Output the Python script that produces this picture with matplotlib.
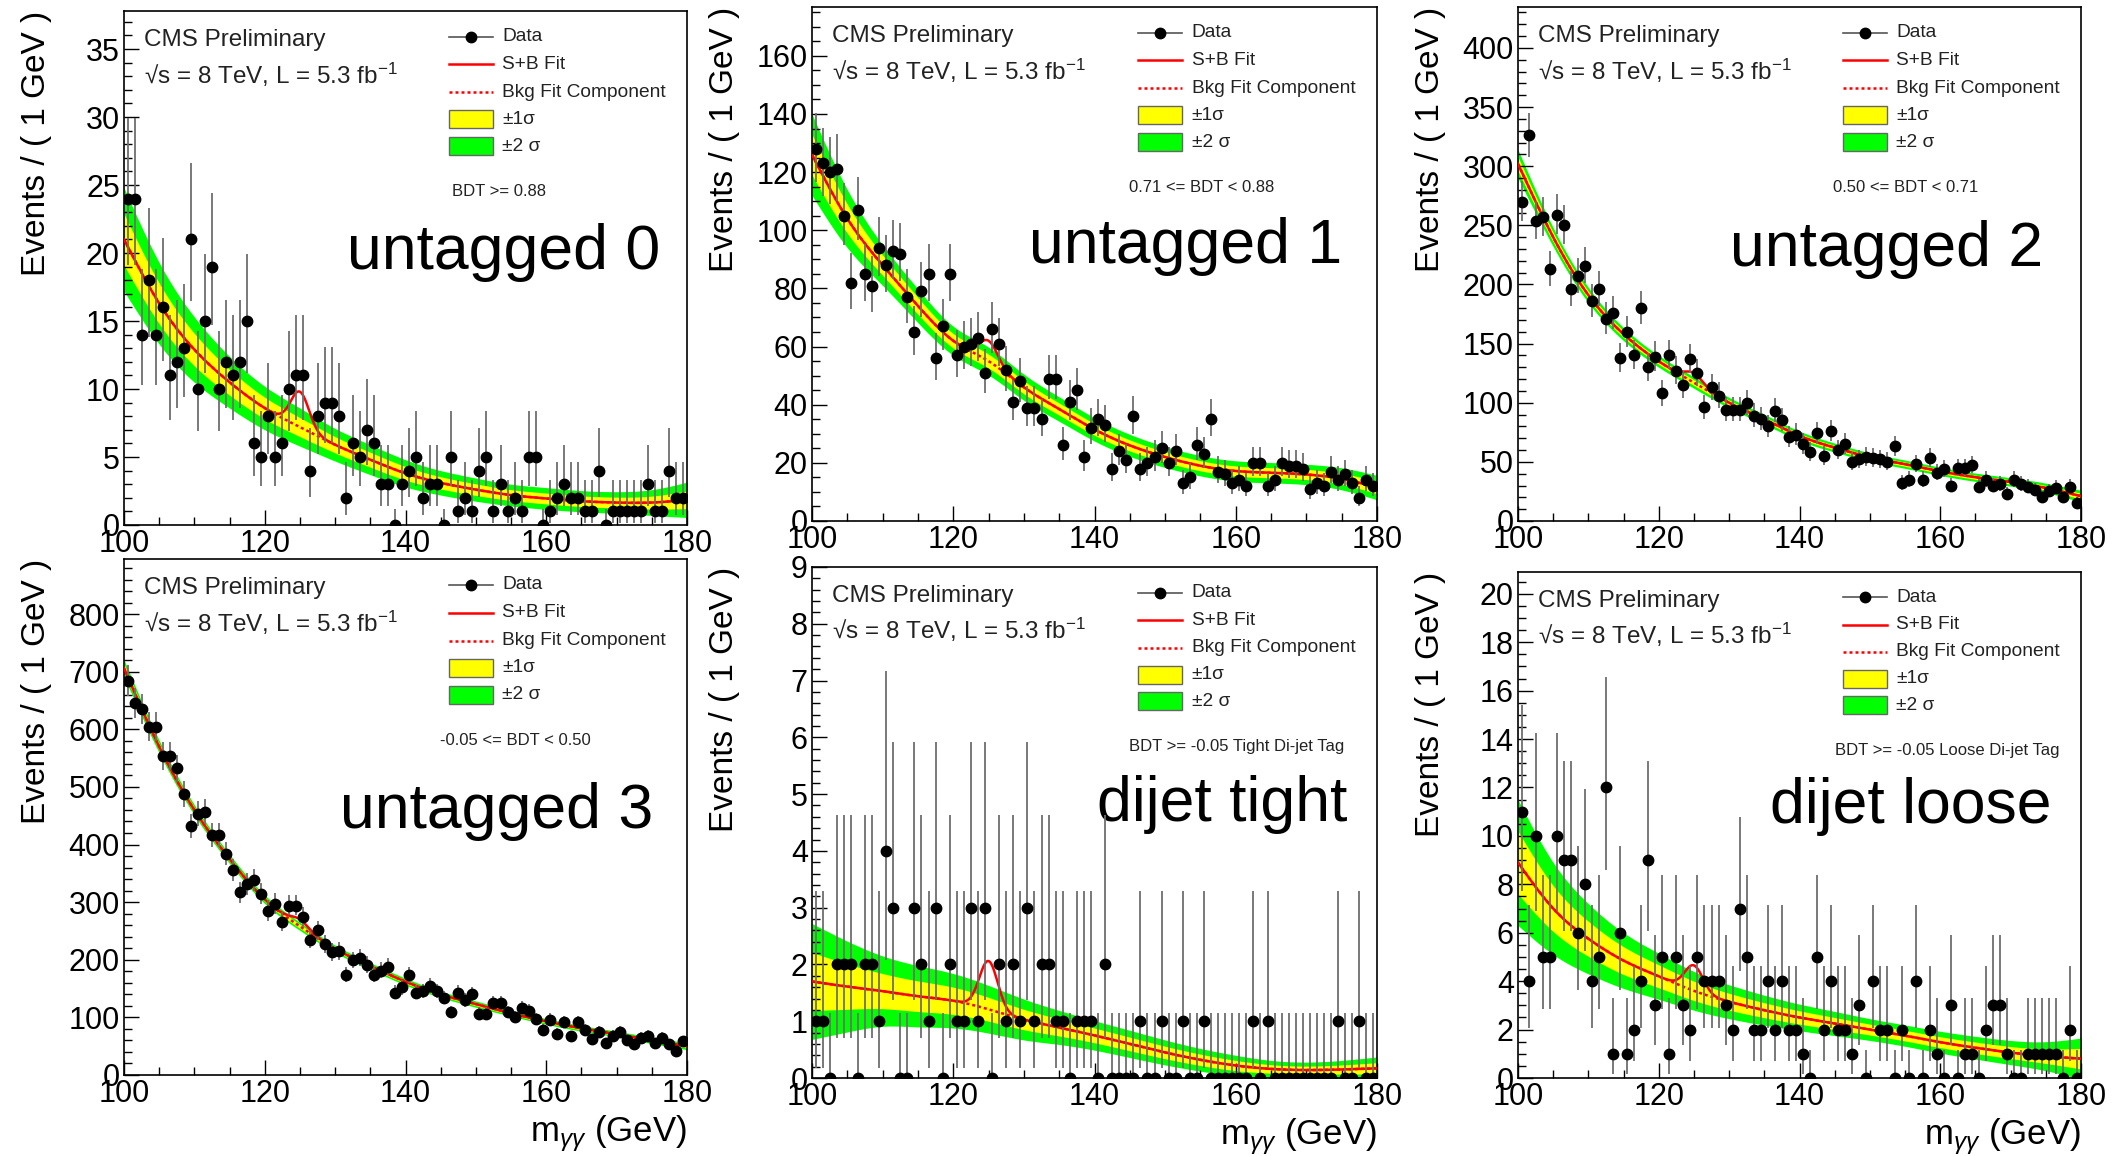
import math
import numpy as np
import matplotlib
matplotlib.use("Agg")
import matplotlib.pyplot as plt
from matplotlib.ticker import MultipleLocator
from matplotlib.patches import Rectangle
from matplotlib.lines import Line2D

plt.rcParams["font.family"] = ["Liberation Sans", "DejaVu Sans"]
plt.rcParams["mathtext.fontset"] = "custom"
plt.rcParams["mathtext.rm"] = "Liberation Sans"
plt.rcParams["mathtext.it"] = "Liberation Sans:italic"
plt.rcParams["mathtext.bf"] = "Liberation Sans:bold"

# ---------------------------------------------------------------- data
# diphoton mass bin centres (1 GeV bins) and fit knot positions
mass = np.arange(100.5, 180.0, 1.0)
knots = np.arange(100, 181, 5)

untagged0 = [24, 24, 14, 18, 14, 16, 11, 12, 13, 21,
             10, 15, 19, 10, 12, 11, 12, 15, 6, 5,
             8, 5, 6, 10, 11, 11, 4, 8, 9, 9,
             8, 2, 6, 5, 7, 6, 3, 3, 0, 3,
             4, 5, 2, 3, 3, 0, 5, 1, 2, 1,
             4, 5, 1, 3, 1, 2, 1, 5, 5, 0,
             1, 2, 3, 2, 2, 1, 1, 4, 0, 1,
             1, 1, 1, 1, 3, 1, 1, 4, 2, 2]

untagged1 = [128, 123, 120, 121, 105, 82, 107, 85, 81, 94,
             88, 93, 92, 77, 65, 79, 85, 56, 67, 85,
             57, 60, 61, 63, 51, 66, 61, 52, 41, 48,
             39, 39, 35, 49, 49, 26, 41, 45, 22, 32,
             35, 33, 18, 24, 21, 36, 18, 20, 22, 25,
             20, 24, 13, 15, 26, 23, 35, 17, 16, 13,
             14, 12, 20, 20, 12, 14, 20, 19, 19, 18,
             11, 13, 12, 17, 14, 16, 13, 8, 14, 12]

untagged2 = [270, 326, 254, 257, 213, 259, 250, 196, 207, 216,
             186, 196, 171, 176, 138, 160, 140, 180, 130, 139,
             108, 140, 127, 115, 137, 125, 96, 113, 106, 94,
             94, 94, 100, 89, 86, 80, 93, 85, 71, 73,
             65, 58, 74, 55, 76, 60, 65, 50, 52, 54,
             53, 52, 50, 63, 32, 35, 48, 35, 53, 41,
             44, 30, 45, 45, 47, 29, 35, 30, 31, 23,
             35, 31, 29, 26, 20, 25, 28, 20, 29, 15]

untagged3 = [684, 645, 635, 604, 604, 553, 553, 532, 488, 432,
             453, 457, 416, 416, 384, 355, 317, 331, 338, 315,
             285, 297, 266, 294, 294, 274, 235, 251, 227, 213,
             215, 174, 199, 203, 191, 174, 181, 188, 143, 152,
             173, 143, 145, 155, 145, 134, 109, 143, 130, 140,
             106, 106, 125, 125, 109, 100, 117, 111, 97, 78,
             96, 72, 92, 67, 92, 78, 63, 75, 55, 68,
             75, 60, 53, 65, 68, 55, 65, 53, 42, 59]

dijet_tight = [1, 1, 0, 2, 2, 2, 0, 2, 2, 1,
               4, 3, 0, 0, 3, 2, 1, 3, 0, 2,
               1, 1, 3, 1, 3, 0, 2, 1, 2, 1,
               3, 1, 2, 2, 1, 1, 0, 1, 1, 1,
               0, 2, 0, 0, 0, 0, 1, 0, 0, 1,
               0, 0, 1, 0, 0, 1, 0, 0, 0, 0,
               0, 0, 1, 0, 1, 0, 0, 0, 0, 0,
               0, 0, 0, 0, 1, 0, 0, 1, 0, 0]

dijet_loose = [11, 4, 10, 5, 5, 10, 9, 9, 6, 8,
               4, 5, 12, 1, 6, 1, 2, 4, 9, 3,
               5, 1, 5, 3, 2, 5, 4, 4, 4, 3,
               2, 7, 5, 2, 2, 4, 2, 4, 2, 2,
               1, 0, 5, 2, 4, 2, 2, 1, 3, 0,
               4, 2, 2, 0, 2, 0, 4, 0, 2, 1,
               0, 3, 0, 1, 1, 0, 2, 3, 3, 1,
               0, 0, 1, 1, 1, 1, 1, 0, 2, 0]

# background fit component at the knots
bkg0 = [21.0, 16.3, 12.9, 10.5, 8.6, 7.2, 5.9, 4.8, 3.8, 3.1, 2.6, 2.2, 1.95, 1.75, 1.65, 1.65, 1.85]
bkg1 = [126, 104, 88, 74, 62, 55, 46, 38.5, 31.5, 26, 22, 19, 17.2, 16.6, 16, 14.5, 11.5]
bkg2 = [302, 240, 191, 158, 135, 117, 100, 86, 72, 62, 54, 48, 42, 37, 33, 28, 21]
bkg3 = [706, 570, 460, 375, 305, 258, 219, 189, 162, 140, 123, 107, 93, 81, 71, 60, 50]
bkg4 = [1.70, 1.61, 1.53, 1.44, 1.36, 1.21, 1.03, 0.89, 0.75, 0.60, 0.45, 0.32, 0.22, 0.16, 0.14, 0.15, 0.17]
bkg5 = [8.9, 7.0, 5.75, 4.85, 4.2, 3.6, 3.15, 2.8, 2.5, 2.25, 2.0, 1.75, 1.48, 1.25, 1.05, 0.9, 0.8]

# half width of the +-2 sigma band at the knots
err0 = [3.8, 3.0, 2.4, 1.9, 1.6, 1.4, 1.2, 1.1, 1.0, 0.9, 0.85, 0.8, 0.8, 0.78, 0.8, 0.95, 1.3]
err1 = [14, 10, 7, 5.8, 5, 4.8, 4.5, 4.2, 4, 3.8, 3.6, 3.5, 3.5, 3.5, 3.5, 3.8, 4.2]
err2 = [12, 8, 6.5, 5.5, 5, 4.8, 4.5, 4.2, 4, 3.8, 3.6, 3.5, 3.5, 3.5, 3.6, 4, 5]
err3 = [15, 11, 9, 8, 7.5, 7, 6.5, 6, 6, 5.5, 5.5, 5, 5, 5, 5, 5.5, 6]
err4 = [1.02, 0.8, 0.62, 0.54, 0.48, 0.42, 0.36, 0.30, 0.26, 0.24, 0.22, 0.20, 0.18, 0.15, 0.14, 0.16, 0.20]
err5 = [2.6, 1.9, 1.45, 1.15, 0.95, 0.8, 0.7, 0.62, 0.55, 0.5, 0.45, 0.44, 0.45, 0.47, 0.5, 0.6, 0.85]

# fitted signal peak height at 125 GeV
signal_amp = [2.6, 7.0, 8.0, 12.0, 0.85, 1.05]
signal_mass = 125.0
signal_width = 1.3

titles = ["untagged 0", "untagged 1", "untagged 2", "untagged 3", "dijet tight", "dijet loose"]
bdt_labels = ["BDT >= 0.88", "0.71 <= BDT < 0.88", "0.50 <= BDT < 0.71",
              "-0.05 <= BDT < 0.50", "BDT >= -0.05 Tight Di-jet Tag",
              "BDT >= -0.05 Loose Di-jet Tag"]
y_max = [37.8, 176.8, 434.6, 895.6, 9.0, 20.9]
y_major = [5, 20, 50, 100, 1, 2]
y_minor = [1, 5, 10, 20, 0.2, 0.5]

counts = [untagged0, untagged1, untagged2, untagged3, dijet_tight, dijet_loose]
bkgs = [bkg0, bkg1, bkg2, bkg3, bkg4, bkg5]
errs = [err0, err1, err2, err3, err4, err5]

# ---------------------------------------------------------------- helpers
def natural_spline(xk, yk, x):
    xk = np.asarray(xk, float)
    yk = np.asarray(yk, float)
    n = len(xk)
    h = np.diff(xk)
    A = np.zeros((n, n))
    r = np.zeros(n)
    A[0, 0] = A[-1, -1] = 1.0
    for i in range(1, n - 1):
        A[i, i - 1] = h[i - 1]
        A[i, i] = 2 * (h[i - 1] + h[i])
        A[i, i + 1] = h[i]
        r[i] = 6 * ((yk[i + 1] - yk[i]) / h[i] - (yk[i] - yk[i - 1]) / h[i - 1])
    M = np.linalg.solve(A, r)
    j = np.clip(np.searchsorted(xk, x) - 1, 0, n - 2)
    x0, x1 = xk[j], xk[j + 1]
    hh = x1 - x0
    a = (x1 - x) / hh
    b = (x - x0) / hh
    return (a * yk[j] + b * yk[j + 1]
            + ((a ** 3 - a) * M[j] + (b ** 3 - b) * M[j + 1]) * hh ** 2 / 6)


LOG_FACT = np.array([math.lgamma(k + 1) for k in range(2000)])


def pois_cdf(n, mu):
    k = np.arange(n + 1)
    return np.exp(k * np.log(mu) - mu - LOG_FACT[k]).sum()


def bisect(f, lo, hi, it=60):
    # f is decreasing in its argument
    for _ in range(it):
        mid = 0.5 * (lo + hi)
        if f(mid) > 0:
            lo = mid
        else:
            hi = mid
    return 0.5 * (lo + hi)


def poisson_interval(n):
    a = 0.5 * (1 - 0.682689)
    if n == 0:
        return 0.0, -math.log(2 * a)
    lo = bisect(lambda m: pois_cdf(n - 1, m) - (1 - a), 1e-9, float(n))
    hi = bisect(lambda m: pois_cdf(n, m) - a, float(n), n + 10 * math.sqrt(n) + 10)
    return lo, hi


# ---------------------------------------------------------------- layout
W, H = 2112, 1156
boxes = [(124, 687, 11, 525), (812, 1377, 7, 521), (1518, 2081, 7, 521),
         (124, 687, 559, 1075), (812, 1377, 567, 1078), (1518, 2081, 572, 1078)]
title_pos = [(0.952, 0.531), (0.938, 0.535), (0.932, 0.529),
             (0.940, 0.510), (0.947, 0.536), (0.947, 0.536)]
bdt_x = [0.583, 0.561, 0.560, 0.562, 0.561, 0.563]

fig = plt.figure(figsize=(W / 100, H / 100), dpi=100)

xs = np.linspace(100, 180, 801)
for p in range(6):
    l, r, t, b = boxes[p]
    ax = fig.add_axes([l / W, 1 - b / H, (r - l) / W, (b - t) / H])

    bk = natural_spline(knots, bkgs[p], xs)
    e2 = natural_spline(knots, errs[p], xs)
    sig = signal_amp[p] * np.exp(-0.5 * ((xs - signal_mass) / signal_width) ** 2)

    ax.fill_between(xs, bk - e2, bk + e2, color="#00ff00", lw=0, zorder=1)
    ax.fill_between(xs, bk - e2 / 2, bk + e2 / 2, color="#ffff00", lw=0, zorder=1.5)
    ax.plot(xs, bk, color="red", lw=1.8, ls=(0, (1.2, 1.2)), zorder=2)
    ax.plot(xs, bk + sig, color="red", lw=1.8, zorder=3)

    n = np.asarray(counts[p])
    iv = np.array([poisson_interval(int(v)) for v in n])
    ax.vlines(mass, iv[:, 0], iv[:, 1], color="#6e6e6e", lw=1.3, zorder=4)
    ax.plot(mass, n, "o", color="black", ms=7.5, zorder=5)

    ax.set_xlim(100, 180)
    ax.set_ylim(0, y_max[p])
    ax.xaxis.set_major_locator(MultipleLocator(20))
    ax.xaxis.set_minor_locator(MultipleLocator(5))
    ax.yaxis.set_major_locator(MultipleLocator(y_major[p]))
    ax.yaxis.set_minor_locator(MultipleLocator(y_minor[p]))
    ax.tick_params(which="both", direction="in", top=False, right=False,
                   labelsize=22, width=1.0)
    ax.tick_params(which="major", length=11)
    ax.tick_params(which="minor", length=6)
    ax.tick_params(axis="x", pad=3)
    ax.tick_params(axis="y", pad=3)
    for s in ax.spines.values():
        s.set_linewidth(1.2)

    ax.set_ylabel("Events / ( 1 GeV )", fontsize=24, loc="top")
    ax.yaxis.set_label_coords(-0.128, 1.0)
    if p >= 3:
        ax.set_xlabel(r"m$_{\gamma\gamma}$ (GeV)", fontsize=25, loc="right")
        ax.xaxis.set_label_coords(1.0, -0.075)

    tr = ax.transAxes
    ax.text(0.036, 0.943, "CMS Preliminary", transform=tr, fontsize=17.5,
            va="center", ha="left", color="#222222")
    ax.text(0.036, 0.876, r"√s = 8 TeV, L = 5.3 fb$^{-1}$", transform=tr,
            fontsize=17.5, va="center", ha="left", color="#222222")

    # legend
    hx0, hx1, tx = 0.577, 0.655, 0.672
    rows = [0.950, 0.896, 0.842, 0.789, 0.737]
    ax.add_line(Line2D([hx0, hx1], [rows[0]] * 2, color="#555555", lw=1.2, transform=tr))
    ax.add_line(Line2D([(hx0 + hx1) / 2], [rows[0]], marker="o", ms=7.5,
                       color="black", transform=tr))
    ax.add_line(Line2D([hx0, hx1], [rows[1]] * 2, color="red", lw=1.8, transform=tr))
    ax.add_line(Line2D([hx0, hx1], [rows[2]] * 2, color="red", lw=1.8,
                       ls=(0, (1.2, 1.2)), transform=tr))
    bh = 0.035
    ax.add_patch(Rectangle((hx0, rows[3] - bh / 2), hx1 - hx0, bh, transform=tr,
                           facecolor="#ffff00", edgecolor="#666666", lw=1.0))
    ax.add_patch(Rectangle((hx0, rows[4] - bh / 2), hx1 - hx0, bh, transform=tr,
                           facecolor="#00ff00", edgecolor="#666666", lw=1.0))
    for yy, lab in zip(rows, ["Data", "S+B Fit", "Bkg Fit Component", "±1σ", "±2 σ"]):
        ax.text(tx, yy, lab, transform=tr, fontsize=13.8, va="center", ha="left",
                color="#222222")
    ax.text(bdt_x[p], 0.648, bdt_labels[p], transform=tr, fontsize=12,
            va="center", ha="left", color="#222222")

    ax.text(title_pos[p][0], title_pos[p][1], titles[p], transform=tr,
            fontsize=45, va="center", ha="right", color="black")

fig.savefig("out.png", dpi=100)
